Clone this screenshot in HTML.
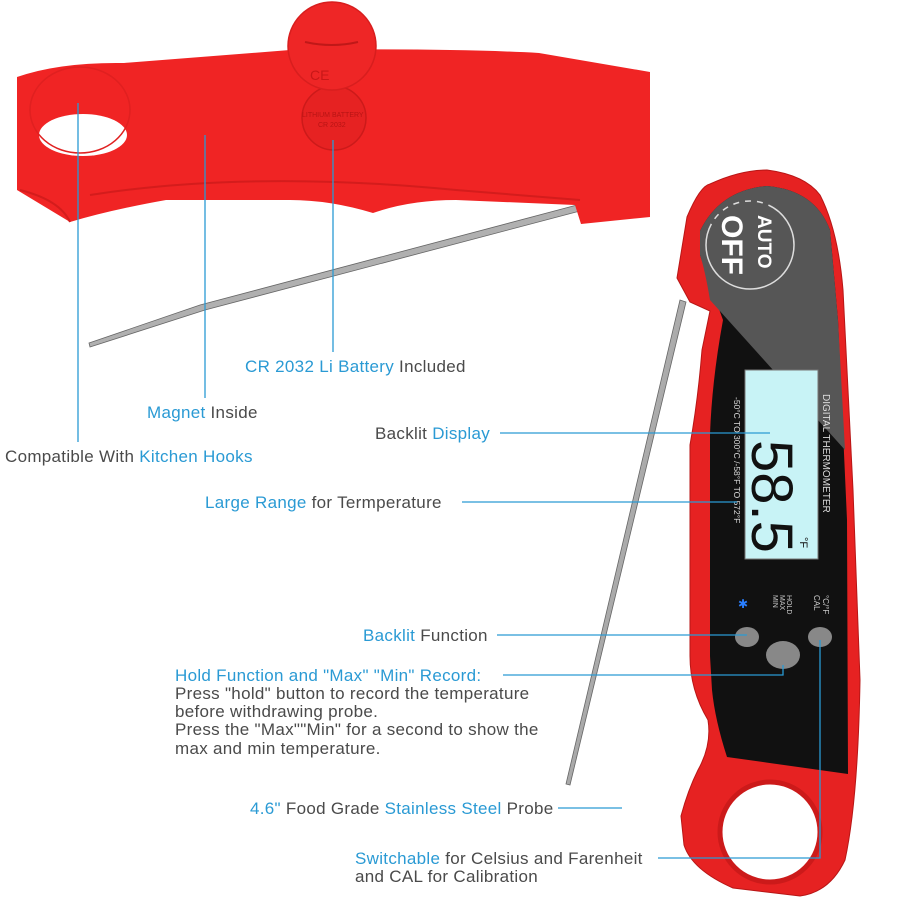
<!DOCTYPE html>
<html><head><meta charset="utf-8"><style>
html,body{margin:0;padding:0;background:#fff;}
svg{display:block}
text{font-family:"Liberation Sans",sans-serif;font-size:17px;letter-spacing:0.3px;fill:#4a4a4a}
.b{fill:#2a9ad4}
</style></head><body>
<svg width="900" height="900" viewBox="0 0 900 900" xmlns="http://www.w3.org/2000/svg">
<defs>
<linearGradient id="steel" x1="0" y1="0" x2="1" y2="1">
<stop offset="0" stop-color="#eee"/><stop offset="0.5" stop-color="#aaa"/><stop offset="1" stop-color="#666"/></linearGradient>
</defs>
<path d="M577,205 L200,305 L89,343 L90,347 L205,310 L580,211 Z" fill="#b0b0b0" stroke="#666" stroke-width="0.8"/>
<path d="M17,77 Q60,62 124,63 L290,50 Q450,48 539,53 L650,72 L650,217 L581,224 L575,205 L456,200 Q410,200 373,213 Q330,200 290,200 L166,200 Q110,210 70,222 L17,190 Z" fill="#f02424"/>
<path d="M20,190 Q60,200 70,222 M90,195 Q250,170 456,190 L580,200" stroke="#d41c1c" stroke-width="2" fill="none"/>
<ellipse cx="83" cy="135" rx="44" ry="21" fill="#fff"/>
<ellipse cx="80" cy="110" rx="50" ry="43" fill="none" stroke="#e02020" stroke-width="1.5"/>
<circle cx="334" cy="118" r="32" fill="#e62222" stroke="#cc1a1a" stroke-width="1.5"/>
<circle cx="332" cy="46" r="44" fill="#ee2626" stroke="#d81e1e" stroke-width="1.5"/>
<path d="M305,42 Q332,48 358,42" stroke="#c01818" stroke-width="2" fill="none"/>
<text x="310" y="80" style="font-size:14px;fill:#c81818;letter-spacing:0">CE</text>
<text x="302" y="117" style="font-size:7px;fill:#b81414;letter-spacing:0">LITHIUM BATTERY</text>
<text x="318" y="127" style="font-size:7px;fill:#b81414;letter-spacing:0">CR 2032</text>
<path d="M680,300 L566,784 L570,785 L686,302 Z" fill="url(#steel)" stroke="#666" stroke-width="0.8"/>
<path d="M677,278 L687,217 Q700,186 710,184 Q740,170 767,170 Q805,175 820,195 Q838,230 843,290 L853,490 L860,680 Q858,800 845,860 Q830,892 800,896 L733,888 Q692,870 684,845 L681,816 Q688,790 698,770 Q712,745 708,720 Q690,690 690,656 L690,445 Q698,400 702,350 L710,311 L690,302 Z" fill="#e62222" stroke="#b81616" stroke-width="1"/>
<path d="M700,231 Q720,190 767,186 Q815,190 830,230 L838,320 L847,520 L848,774 L727,757 Q715,720 712,690 L710,656 L710,434 Q712,380 723,320 Q712,290 700,255 Z" fill="#111"/>
<path d="M700,231 Q720,190 767,186 Q815,190 830,230 L838,320 L845,450 L710,300 Q705,270 700,255 Z" fill="#565656"/>
<circle cx="750" cy="245" r="44" fill="none" stroke="#ddd" stroke-width="1.5" stroke-dasharray="160 6 6 6 6 6 6 6 6 6 6 6"/>
<text transform="translate(722,215) rotate(90)" style="font-size:30px;font-weight:bold;fill:#fff;letter-spacing:0">OFF</text>
<text transform="translate(758,215) rotate(90)" style="font-size:19px;font-weight:bold;fill:#fff;letter-spacing:0">AUTO</text>
<rect x="745" y="370" width="73" height="189" fill="#c8f3f6" stroke="#777"/>
<text transform="translate(752,440) rotate(90)" style="font-size:58px;fill:#111;letter-spacing:0">58.5</text>
<text transform="translate(800,537) rotate(90)" style="font-size:11px;fill:#111;letter-spacing:0">°F</text>
<text transform="translate(823,394) rotate(90)" style="font-size:10px;fill:#ddd;letter-spacing:0">DIGITAL THERMOMETER</text>
<text transform="translate(734,397) rotate(90)" style="font-size:8.5px;fill:#ddd;letter-spacing:0">-50°C TO 300°C /-58°F TO 572°F</text>
<text x="738" y="608" style="font-size:12px;fill:#2a7fff;letter-spacing:0">✱</text>
<text transform="translate(787,595) rotate(90)" style="font-size:7px;fill:#ccc;letter-spacing:0">HOLD</text>
<text transform="translate(780,595) rotate(90)" style="font-size:7px;fill:#ccc;letter-spacing:0">MAX</text>
<text transform="translate(773,595) rotate(90)" style="font-size:7px;fill:#ccc;letter-spacing:0">MIN</text>
<text transform="translate(823,595) rotate(90)" style="font-size:8px;fill:#ccc;letter-spacing:0">°C/°F</text>
<text transform="translate(814,595) rotate(90)" style="font-size:8px;fill:#ccc;letter-spacing:0">CAL</text>
<ellipse cx="747" cy="637" rx="12" ry="10" fill="#888"/>
<ellipse cx="783" cy="655" rx="17" ry="14" fill="#888"/>
<ellipse cx="820" cy="637" rx="12" ry="10" fill="#888"/>
<ellipse cx="770" cy="832" rx="50" ry="50" fill="#fff" stroke="#cc1a1a" stroke-width="5"/>
<g stroke="#2a9ad4" stroke-width="1.3" fill="none">
<path d="M78,103 V442"/>
<path d="M205,135 V398"/>
<path d="M333,140 V352"/>
<path d="M500,433 H770"/>
<path d="M462,502 H737"/>
<path d="M497,635 H747"/>
<path d="M503,675 H783 V665"/>
<path d="M558,808 H622"/>
<path d="M658,858 H820 V640"/>
</g>
<text x="245" y="372"><tspan class="b">CR 2032 Li Battery</tspan> Included</text>
<text x="147" y="418"><tspan class="b">Magnet</tspan> Inside</text>
<text x="5" y="462">Compatible With <tspan class="b">Kitchen Hooks</tspan></text>
<text x="375" y="439">Backlit <tspan class="b">Display</tspan></text>
<text x="205" y="508"><tspan class="b">Large Range</tspan> for Termperature</text>
<text x="363" y="641"><tspan class="b">Backlit</tspan> Function</text>
<text x="175" y="681" class="b">Hold Function and "Max" "Min" Record:</text>
<text x="175" y="699">Press "hold" button to record the temperature</text>
<text x="175" y="717">before withdrawing probe.</text>
<text x="175" y="735">Press the "Max""Min" for a second to show the</text>
<text x="175" y="754">max and min temperature.</text>
<text x="250" y="814"><tspan class="b">4.6"</tspan> Food Grade <tspan class="b">Stainless Steel</tspan> Probe</text>
<text x="355" y="864"><tspan class="b">Switchable</tspan> for Celsius and Farenheit</text>
<text x="355" y="882">and CAL for Calibration</text>
</svg>
</body></html>
